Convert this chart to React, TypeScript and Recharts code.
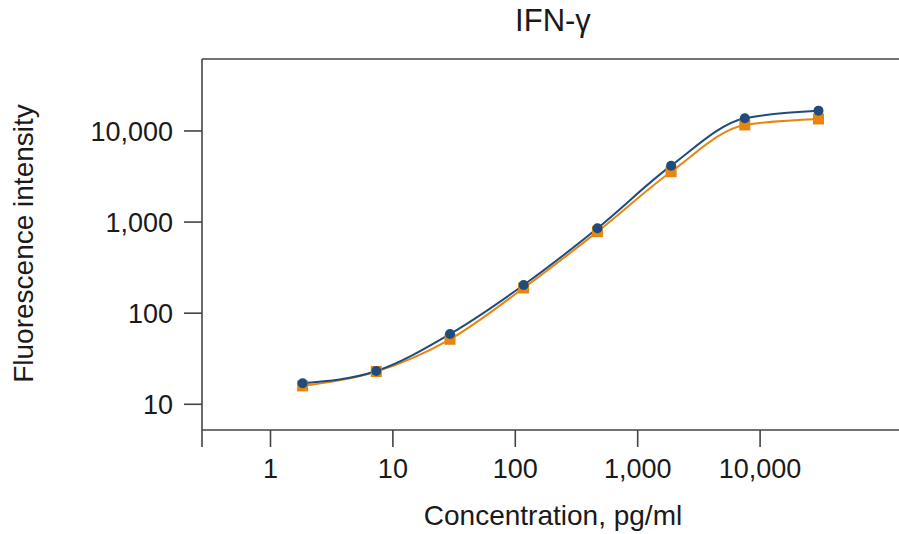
import { LineChart, Line, XAxis, YAxis } from 'recharts'

// 4-fold dilution series, pg/ml
const concentration = [1.83, 7.32, 29.3, 117, 469, 1875, 7500, 30000]
const blueSeries = [17.0, 23.2, 59.1, 204, 855, 4160, 13770, 16710]
const orangeSeries = [15.9, 22.9, 51.7, 189, 785, 3573, 11640, 13540]

const xTicks = [0.2757, 1, 10, 100, 1000, 10000]
const yTicks = [10, 100, 1000, 10000]

const xDomain = [0.2757, 152700]
const yDomain = [5.22, 61660]

const data = concentration.map((c, i) => ({
  conc: c,
  blue: blueSeries[i],
  orange: orangeSeries[i],
}))

const BLUE = '#1f4b7d'
const ORANGE = '#e8850f'
const AXIS = '#444'
const FONT = '"Liberation Sans", Arial, sans-serif'

function FixedText({ tx, ty, text, size, rot, weight }: any) {
  return (
    <text
      x={tx}
      y={ty}
      textAnchor="middle"
      fontSize={size}
      fontFamily={FONT}
      fontWeight={weight}
      fill="#1a1a1a"
      transform={rot ? `rotate(${rot} ${tx} ${ty})` : undefined}
    >
      {text}
    </text>
  )
}

const SquareDot = (props: any) => {
  const { cx, cy, index } = props
  if (cx == null || cy == null) return <g key={index} />
  return <rect key={index} x={cx - 5.5} y={cy - 5.5} width={11} height={11} fill={ORANGE} />
}

const fmt = (v: number) => (v < 0.5 ? '' : v.toLocaleString('en-US'))

export default function App() {
  return (
    <div style={{ position: 'fixed', left: 0, top: 0, width: 899, height: 534, overflow: 'hidden', background: '#fff' }}>
      <LineChart width={915} height={534} data={data} margin={{ top: 58, right: 10, bottom: 0, left: 0 }}>
        <XAxis
          xAxisId="top"
          orientation="top"
          dataKey="conc"
          type="number"
          scale="log"
          domain={xDomain}
          allowDataOverflow
          height={1}
          ticks={xTicks}
          tick={false}
          tickLine={false}
          axisLine={{ stroke: AXIS, strokeWidth: 1.6 }}
          label={<FixedText tx={553} ty={31} text="IFN-γ" size={31} />}
        />
        <XAxis
          dataKey="conc"
          type="number"
          scale="log"
          domain={xDomain}
          allowDataOverflow
          ticks={xTicks}
          tickFormatter={fmt}
          height={104}
          tickSize={17}
          tickMargin={12}
          tick={{ fontSize: 27, fontFamily: FONT, fill: '#1a1a1a' }}
          tickLine={{ stroke: AXIS, strokeWidth: 1.6 }}
          axisLine={{ stroke: AXIS, strokeWidth: 1.6 }}
          label={<FixedText tx={553} ty={525} text="Concentration, pg/ml" size={28} />}
        />
        <YAxis
          type="number"
          scale="log"
          domain={yDomain}
          allowDataOverflow
          ticks={yTicks}
          tickFormatter={(v: number) => v.toLocaleString('en-US')}
          width={202}
          tickSize={18}
          tickMargin={11}
          tick={{ fontSize: 27, fontFamily: FONT, fill: '#1a1a1a' }}
          tickLine={{ stroke: AXIS, strokeWidth: 1.6 }}
          axisLine={{ stroke: AXIS, strokeWidth: 1.6 }}
          label={<FixedText tx={33} ty={243.5} text="Fluorescence intensity" size={28} rot={-90} />}
        />
        <Line
          dataKey="orange"
          type="monotone"
          stroke={ORANGE}
          strokeWidth={2}
          dot={SquareDot}
          activeDot={false}
          isAnimationActive={false}
        />
        <Line
          dataKey="blue"
          type="monotone"
          stroke={BLUE}
          strokeWidth={2}
          dot={{ r: 5, fill: BLUE, stroke: 'none' }}
          activeDot={false}
          isAnimationActive={false}
        />
      </LineChart>
    </div>
  )
}
